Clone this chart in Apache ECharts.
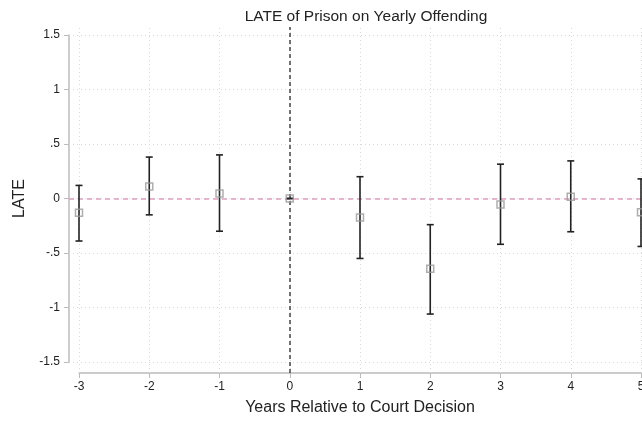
<!DOCTYPE html>
<html>
<head>
<meta charset="utf-8">
<script src="https://cdn.jsdelivr.net/npm/echarts@6/dist/echarts.min.js"></script>
<style>
  html, body { margin: 0; padding: 0; background: #fff; }
  #chart { width: 642px; height: 422px; }
</style>
</head>
<body>
<div id="chart"></div>
<script>
// years relative to court decision
const years = [-3, -2, -1, 0, 1, 2, 3, 4, 5];
// point estimates and 95% CI bounds
const late = [-0.13, 0.11, 0.045, 0, -0.175, -0.645, -0.055, 0.015, -0.125];
const ciLow = [-0.39, -0.15, -0.30, 0, -0.55, -1.06, -0.42, -0.305, -0.44];
const ciHigh = [0.12, 0.38, 0.40, 0, 0.20, -0.24, 0.315, 0.345, 0.18];
const yTicks = [-1.5, -1, -0.5, 0, 0.5, 1, 1.5];

const fmt = v => {
  let s = String(v);
  return s.replace(/^0\./, '.').replace(/^-0\./, '-.');
};

const chart = echarts.init(document.getElementById('chart'));

const gridDotted = { color: '#d9d9d9', width: 1, type: [1, 3] };

chart.setOption({
  animation: false,
  textStyle: { fontFamily: 'Liberation Sans, Arial, sans-serif' },
  title: {
    text: 'LATE of Prison on Yearly Offending',
    left: 361, top: 4, textAlign: 'center',
    textStyle: { fontSize: 15.5, fontWeight: 'normal', color: '#222' }
  },
  grid: [
    // axes grid: ticks span exactly -3..5 and -1.5..1.5
    { left: 79, right: 1, top: 35, bottom: 60, outerBoundsMode: 'none', containLabel: false },
    // plot-region grid (slightly larger, holds gridlines & reference lines)
    { left: 69, right: 0, top: 27, bottom: 49, outerBoundsMode: 'none', containLabel: false }
  ],
  xAxis: [
    {
      gridIndex: 0, type: 'value', min: -3, max: 5, interval: 1,
      offset: 11,
      name: 'Years Relative to Court Decision',
      nameLocation: 'middle', nameGap: 27,
      nameTextStyle: { fontSize: 16, color: '#222' },
      axisLine: { show: true, onZero: false, lineStyle: { color: '#bbb', width: 1.5 } },
      axisTick: { show: true, length: 5, lineStyle: { color: '#bbb' } },
      axisLabel: { fontSize: 12, color: '#222', margin: 8, showMaxLabel: true, showMinLabel: true },
      splitLine: { show: false }
    },
    {
      gridIndex: 1, type: 'value', min: -3 - 10 / 70.25, max: 5 + 1 / 70.25,
      show: false, splitLine: { show: false }
    }
  ],
  yAxis: [
    {
      gridIndex: 0, type: 'value', min: -1.5, max: 1.5, interval: 0.5,
      offset: 10,
      name: 'LATE', nameLocation: 'middle', nameGap: 41,
      nameTextStyle: { fontSize: 16, color: '#222' },
      axisLine: { show: true, onZero: false, lineStyle: { color: '#bbb', width: 1.5 } },
      axisTick: { show: true, length: 5, lineStyle: { color: '#bbb' } },
      axisLabel: { fontSize: 12, color: '#222', margin: 9, formatter: fmt },
      splitLine: { show: false }
    },
    {
      gridIndex: 1, type: 'value', min: -1.5 - 11 / 109, max: 1.5 + 8 / 109,
      show: false, splitLine: { show: false }
    }
  ],
  series: [
    {
      // gridlines and reference lines in the plot region
      type: 'line', xAxisIndex: 1, yAxisIndex: 1, data: [],
      silent: true, z: 1,
      markLine: {
        symbol: 'none', silent: true, label: { show: false }, z: 1,
        data: [
          ...years.map(x => ({ xAxis: x, lineStyle: gridDotted })),
          ...yTicks.map(y => ({ yAxis: y, lineStyle: gridDotted })),
          { yAxis: 0, lineStyle: { color: '#dd9fbd', width: 1.5, type: [5, 4] } },
          { xAxis: 0, lineStyle: { color: '#444', width: 1.5, type: [4, 3] } }
        ]
      }
    },
    {
      type: 'custom', xAxisIndex: 0, yAxisIndex: 0, clip: false, z: 6,
      data: years.map((x, i) => [x, ciLow[i], ciHigh[i]]),
      renderItem: (params, api) => {
        const lo = api.coord([api.value(0), api.value(1)]);
        const hi = api.coord([api.value(0), api.value(2)]);
        const w = 3.5;
        const st = { stroke: '#222', lineWidth: 1.6 };
        return {
          type: 'group',
          children: [
            { type: 'line', shape: { x1: lo[0], y1: lo[1], x2: hi[0], y2: hi[1] }, style: st },
            { type: 'line', shape: { x1: lo[0] - w, y1: lo[1], x2: lo[0] + w, y2: lo[1] }, style: st },
            { type: 'line', shape: { x1: hi[0] - w, y1: hi[1], x2: hi[0] + w, y2: hi[1] }, style: st }
          ]
        };
      }
    },
    {
      type: 'scatter', xAxisIndex: 0, yAxisIndex: 0, clip: false,
      symbol: 'rect', symbolSize: 7,
      itemStyle: { color: 'rgba(255,255,255,0)', borderColor: '#9a9a9a', borderWidth: 1.5 },
      data: years.map((x, i) => [x, late[i]]),
      z: 8
    }
  ]
});
</script>
</body>
</html>
